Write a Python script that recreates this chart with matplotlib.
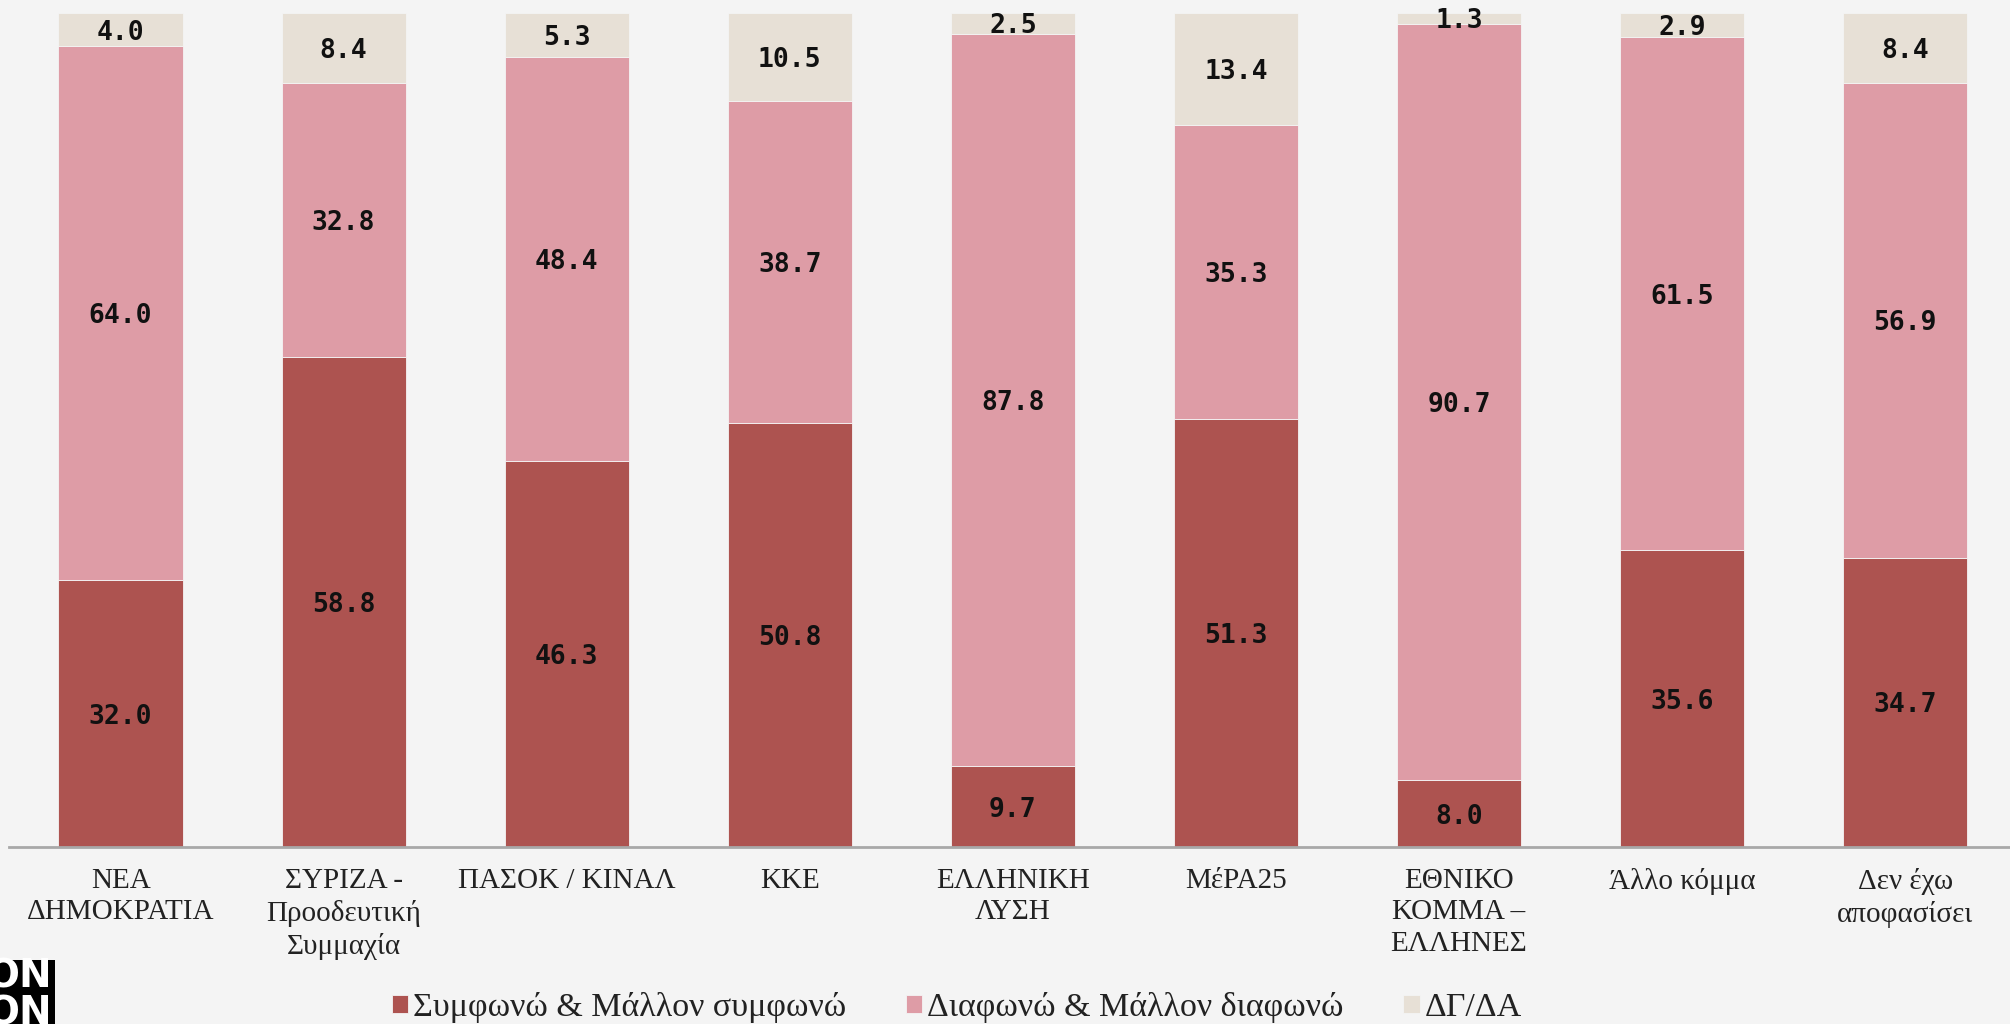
import matplotlib.pyplot as plt
from matplotlib.patches import Rectangle
import numpy as np

parties = ['ΝΕΑ\nΔΗΜΟΚΡΑΤΙΑ', 'ΣΥΡΙΖΑ -\nΠροοδευτική\nΣυμμαχία', 'ΠΑΣΟΚ / ΚΙΝΑΛ', 'ΚΚΕ',
           'ΕΛΛΗΝΙΚΗ\nΛΥΣΗ', 'ΜέΡΑ25', 'ΕΘΝΙΚΟ\nΚΟΜΜΑ –\nΕΛΛΗΝΕΣ', 'Άλλο κόμμα',
           'Δεν έχω\nαποφασίσει']
agree = [32.0, 58.8, 46.3, 50.8, 9.7, 51.3, 8.0, 35.6, 34.7]
disagree = [64.0, 32.8, 48.4, 38.7, 87.8, 35.3, 90.7, 61.5, 56.9]
dkna = [4.0, 8.4, 5.3, 10.5, 2.5, 13.4, 1.3, 2.9, 8.4]
series_names = ['Συμφωνώ & Μάλλον συμφωνώ', 'Διαφωνώ & Μάλλον διαφωνώ', 'ΔΓ/ΔΑ']

colors = ['#ad5350', '#de9ca6', '#e7e0d6']
bg = '#f4f4f4'

fig = plt.figure(figsize=(20.1, 10.24), dpi=100, facecolor=bg)
ax = fig.add_axes([0.0045, 0.1729, 0.9955, 0.8144])
ax.set_facecolor(bg)

x = np.arange(len(parties))
w = 0.557
bottom = np.zeros(len(parties))
for vals, c, name in zip([agree, disagree, dkna], colors, series_names):
    vals = np.array(vals)
    ax.bar(x, vals, w, bottom=bottom, color=c, label=name,
           edgecolor='#f4f4f4', linewidth=0.6)
    for xi, b, v in zip(x, bottom, vals):
        ax.text(xi, b + v / 2, f'{v:.1f}', ha='center', va='center_baseline',
                fontsize=19, fontweight='bold', family='DejaVu Sans Mono', color='#111111')
    bottom += vals

ax.set_xlim(-0.5, 8.47)
ax.set_ylim(0, 100)
ax.set_yticks([])
ax.set_xticks(x)
ax.set_xticklabels(parties, family='Liberation Serif', fontsize=21, linespacing=1.28,
                   color='#222222', va='top')
ax.tick_params(axis='x', length=0, pad=15)
for s in ['top', 'right', 'left']:
    ax.spines[s].set_visible(False)
ax.spines['bottom'].set_color('#a8a8a8')
ax.spines['bottom'].set_linewidth(2)

leg = fig.legend(loc='center', bbox_to_anchor=(0.476, 0.016), ncol=3, frameon=False,
                 prop={'family': 'Liberation Serif', 'size': 24.5},
                 handlelength=0.48, handleheight=0.48, handletextpad=0.15,
                 columnspacing=1.75)
for t in leg.get_texts():
    t.set_color('#222222')

# logo, cut off at the left edge
fig.add_artist(Rectangle((0, 0), 0.0274, 0.0625, transform=fig.transFigure,
                         facecolor='black', edgecolor='none'))
fig.text(0.0259, 0.046, 'ON', ha='right', va='center', color='white',
         fontsize=28, fontweight='bold', family='DejaVu Sans')
fig.text(0.0259, 0.010, 'ON', ha='right', va='center', color='white',
         fontsize=28, fontweight='bold', family='DejaVu Sans')

fig.savefig('out.png', dpi=100, facecolor=bg)
